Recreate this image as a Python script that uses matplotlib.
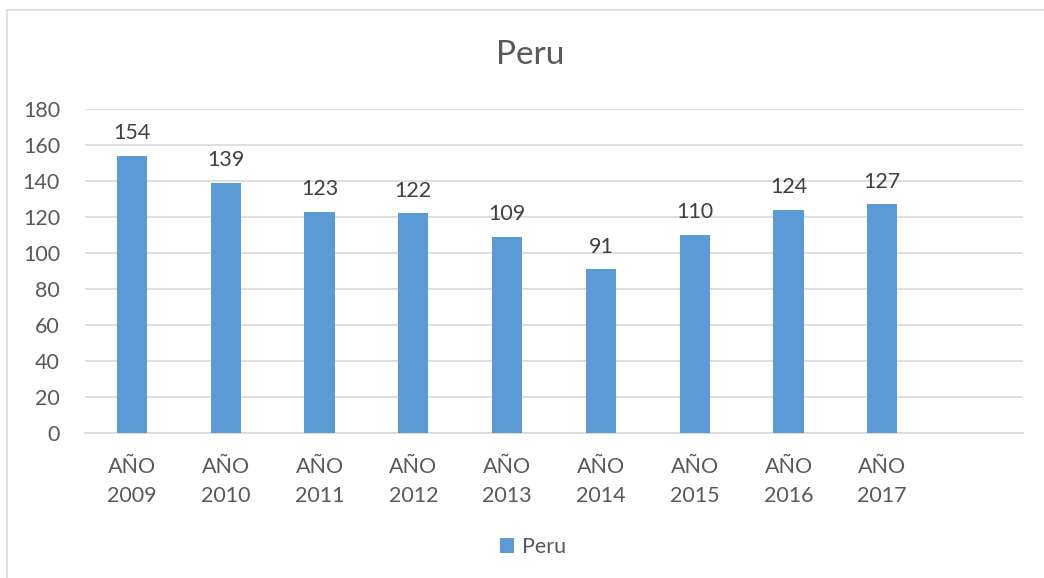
import matplotlib
matplotlib.use("Agg")
import matplotlib.pyplot as plt
from matplotlib.patches import Rectangle, Patch

categories = ["AÑO\n2009", "AÑO\n2010", "AÑO\n2011", "AÑO\n2012", "AÑO\n2013",
              "AÑO\n2014", "AÑO\n2015", "AÑO\n2016", "AÑO\n2017", ""]
values = [154, 139, 123, 122, 109, 91, 110, 124, 127]
yticks = [0, 20, 40, 60, 80, 100, 120, 140, 160, 180]

plt.rcParams['font.family'] = ['Lato', 'DejaVu Sans']
txt = '#595959'
bar_color = '#5b9bd5'
grid = '#d9d9d9'
fs = 15.5

W, H = 1044, 578
fig = plt.figure(figsize=(W/100, H/100), dpi=100)
fig.patches.append(Rectangle((7/W, -0.1), 1.2, (H-10)/H + 0.1, transform=fig.transFigure,
                             facecolor='white', edgecolor='#d9d9d9', lw=1.2, zorder=-1))

ax = fig.add_axes([85/W, 145/H, (1023-85)/W, (433-109)/H])
x = list(range(len(categories)))
ax.bar(x[:len(values)], values, width=0.32, color=bar_color, zorder=3, label='Peru')
ax.set_xlim(-0.5, len(categories) - 0.5)
ax.set_ylim(0, 180)
ax.set_yticks(yticks)
ax.set_xticks(x)
ax.set_xticklabels(categories, fontsize=fs, color=txt, linespacing=1.6)
ax.tick_params(axis='y', labelsize=fs, labelcolor=txt, length=0, pad=18)
ax.tick_params(axis='x', length=0, pad=17)
ax.grid(axis='y', color=grid, lw=1.2, zorder=0)
for s in ['top', 'right', 'left']:
    ax.spines[s].set_visible(False)
ax.spines['bottom'].set_color(grid)
ax.spines['bottom'].set_linewidth(1.2)

for xi, v in zip(x, values):
    ax.annotate(str(v), (xi, v), xytext=(0, 9), textcoords='offset points',
                ha='center', va='bottom', fontsize=fs, color='#404040')

fig.text(530/W, 1 - 55/H, 'Peru', ha='center', va='center', fontsize=24, color=txt)

leg = fig.legend(handles=[Patch(facecolor=bar_color)], labels=['Peru'],
                 loc='center', bbox_to_anchor=(533/W, 1 - 547/H), frameon=False,
                 fontsize=fs, handlelength=0.65, handleheight=0.65, handletextpad=0.35)
for t in leg.get_texts():
    t.set_color(txt)

fig.savefig('out.png', dpi=100)
